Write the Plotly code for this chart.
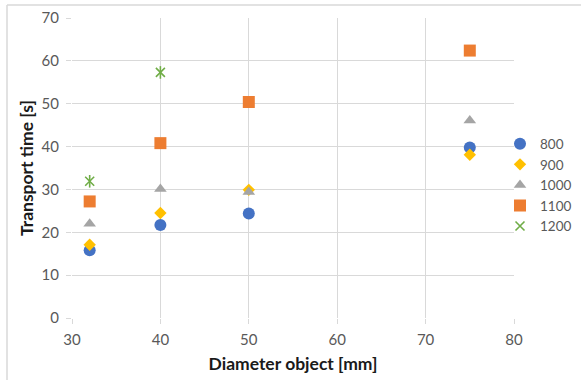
import plotly.graph_objects as go

# Diameter of the transported object [mm] and measured transport times [s]
diam_800 = [32, 40, 50, 75]
time_800 = [15.8, 21.7, 24.4, 39.8]

diam_900 = [32, 40, 50, 75]
time_900 = [17.1, 24.5, 29.9, 38.1]

diam_1000 = [32, 40, 50, 75]
time_1000 = [22.0, 30.1, 29.4, 46.1]

diam_1100 = [32, 40, 50, 75]
time_1100 = [27.2, 40.8, 50.4, 62.4]

diam_1200 = [32, 40]
time_1200 = [31.9, 57.3]

x_ticks = [30, 40, 50, 60, 70, 80]
y_ticks = [0, 10, 20, 30, 40, 50, 60, 70]

W, H = 581, 380
ML, MR, MT, MB = 72, 67, 18, 62
PW, PH = W - ML - MR, H - MT - MB

GRID = "#d9d9d9"
LABEL = "#595959"
GREEN = "#70AD47"
FONT = "Lato, 'Open Sans', sans-serif"

fig = go.Figure()

fig.add_trace(go.Scatter(x=diam_800, y=time_800, mode="markers", name="800",
                         marker=dict(symbol="circle", size=12, color="#4472C4")))
fig.add_trace(go.Scatter(x=diam_900, y=time_900, mode="markers", name="900",
                         marker=dict(symbol="diamond", size=9.5, color="#FFC000")))
fig.add_trace(go.Scatter(x=diam_1000, y=time_1000, mode="markers", name="1000",
                         marker=dict(symbol="triangle-up", size=11, color="#A5A5A5")))
fig.add_trace(go.Scatter(x=diam_1100, y=time_1100, mode="markers", name="1100",
                         marker=dict(symbol="square", size=12, color="#ED7D31")))
fig.add_trace(go.Scatter(x=diam_1200, y=time_1200, mode="markers", name="1200",
                         legendgroup="1200",
                         marker=dict(symbol="x-thin-open", size=9, color=GREEN,
                                     line=dict(color=GREEN, width=1.6))))
# vertical stroke completing the star marker
fig.add_trace(go.Scatter(x=diam_1200, y=time_1200, mode="markers", name="1200",
                         legendgroup="1200", showlegend=False,
                         marker=dict(symbol="line-ns-open", size=9, color=GREEN,
                                     line=dict(color=GREEN, width=1.6))))

axis_common = dict(showgrid=True, gridcolor=GRID, gridwidth=1,
                   zeroline=False, showline=False,
                   ticks="outside", ticklen=5, tickcolor=GRID,
                   tickfont=dict(family=FONT, size=15, color=LABEL))

fig.update_xaxes(range=[30, 80], tickvals=x_ticks, ticklabelstandoff=3,
                 title=dict(text="<b>Diameter object [mm]</b>", standoff=10,
                            font=dict(family=FONT, size=17.5, color="#1a1a1a")),
                 **axis_common)
fig.update_yaxes(range=[0, 70], tickvals=y_ticks, ticklabelstandoff=4,
                 title=dict(text="<b>Transport time [s]</b>", standoff=3,
                            font=dict(family=FONT, size=17.5, color="#1a1a1a")),
                 **axis_common)

def px_x(p):
    return (p - ML) / PW

def px_y(p):
    return (H - MB - p) / PH

# chart frame: top and left edges
fig.add_shape(type="line", xref="paper", yref="paper",
              x0=px_x(7), x1=px_x(600), y0=px_y(5), y1=px_y(5),
              line=dict(color=GRID, width=1.5))
fig.add_shape(type="line", xref="paper", yref="paper",
              x0=px_x(7), x1=px_x(7), y0=px_y(5), y1=px_y(400),
              line=dict(color=GRID, width=1.5))

fig.update_layout(
    width=W, height=H,
    margin=dict(l=ML, r=MR, t=MT, b=MB, autoexpand=False),
    paper_bgcolor="white", plot_bgcolor="white",
    font=dict(family=FONT, color=LABEL),
    legend=dict(x=px_x(500), xanchor="left", y=px_y(185), yanchor="middle",
                font=dict(family=FONT, size=13.5, color=LABEL),
                bgcolor="rgba(0,0,0,0)", itemwidth=30, tracegroupgap=0),
    showlegend=True,
)

fig.write_html("out.html")
